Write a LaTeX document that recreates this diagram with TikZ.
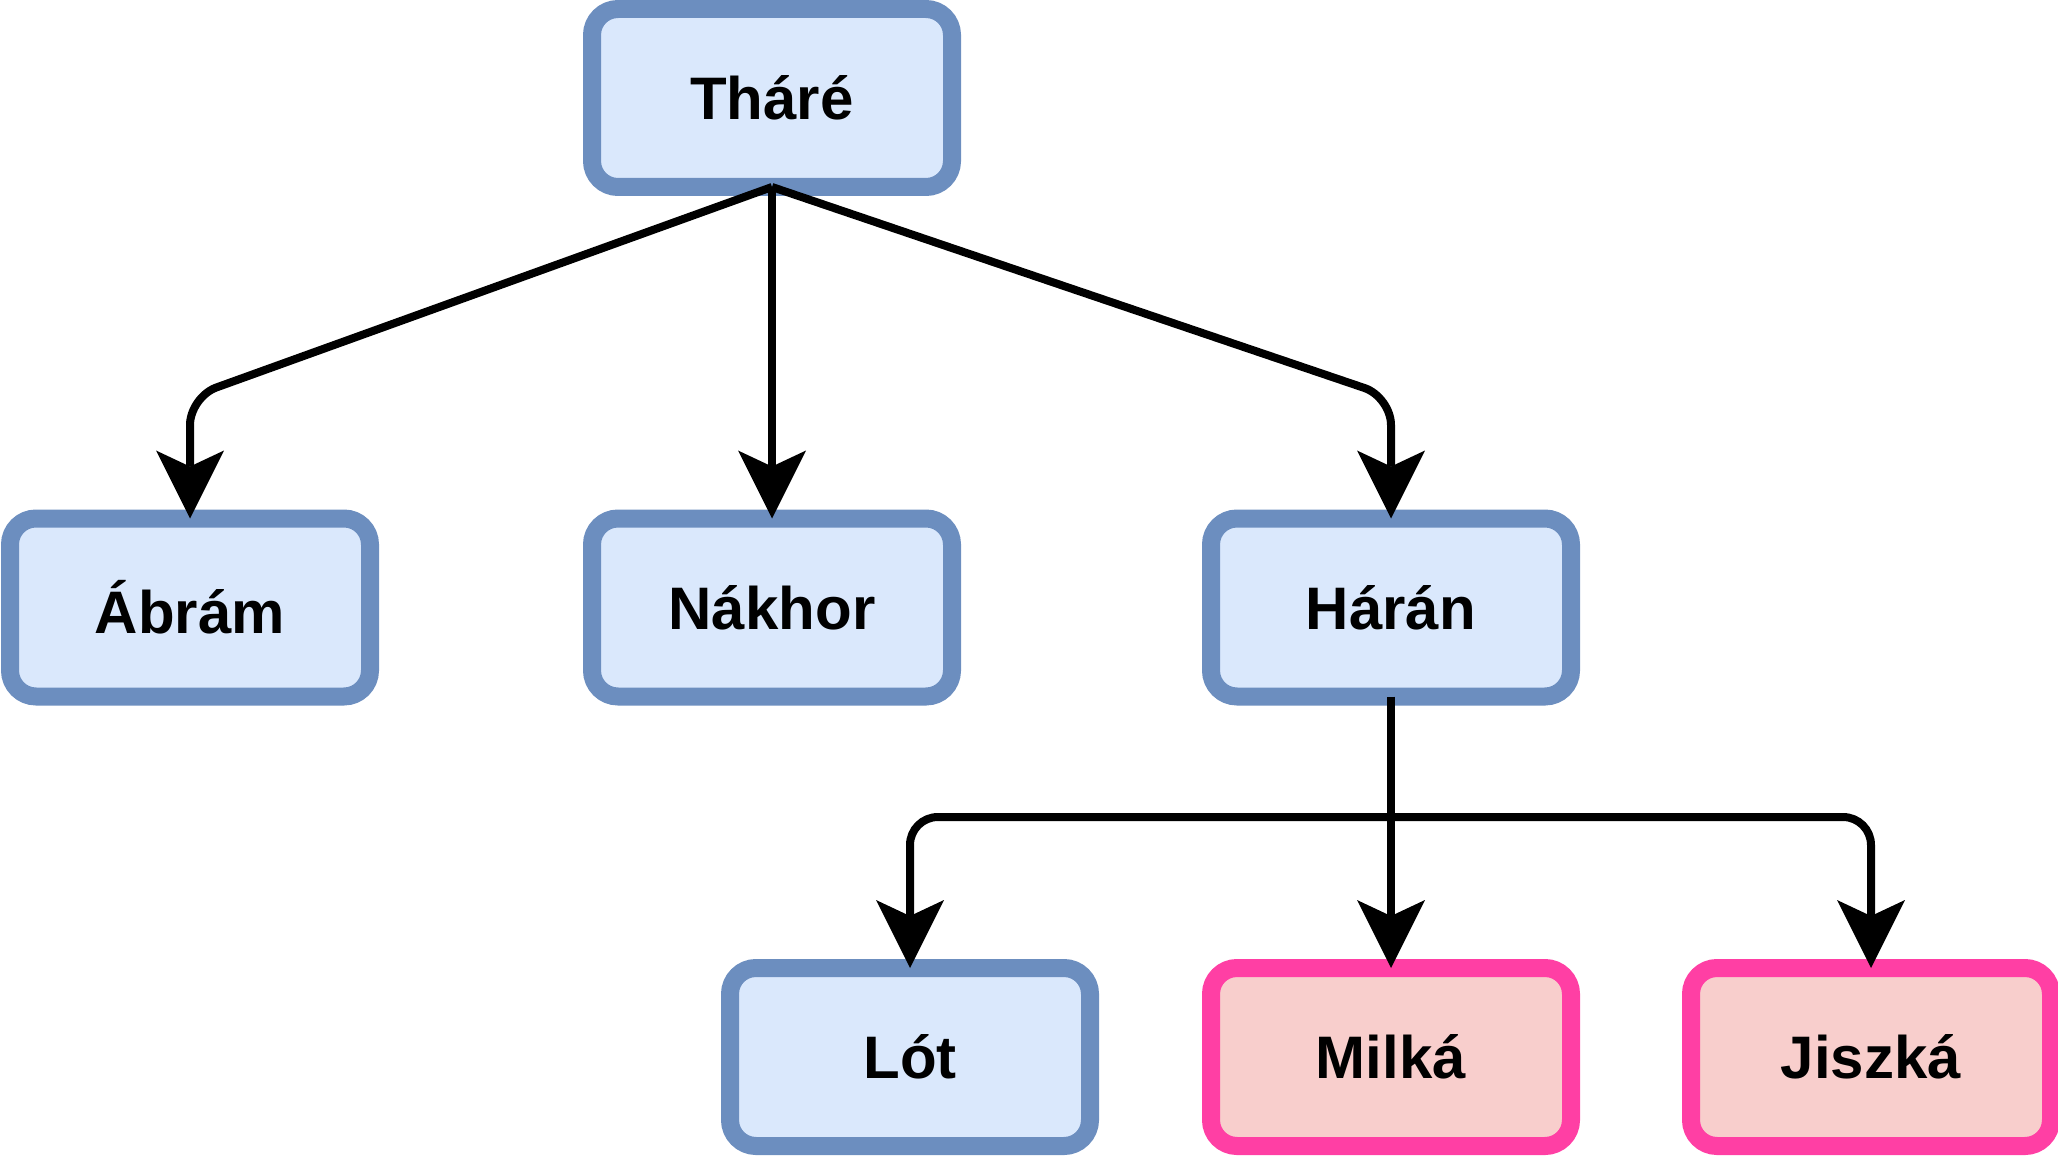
\documentclass[tikz,border=0pt]{standalone}
\usepackage{fontspec}
\setmainfont{Liberation Sans}
\usetikzlibrary{arrows.meta}
\definecolor{bluefill}{HTML}{DAE8FC}
\definecolor{bluedraw}{HTML}{6C8EBF}
\definecolor{pinkfill}{HTML}{F8CECC}
\definecolor{pinkdraw}{HTML}{FF3FA4}
\tikzset{
  person/.style={draw=bluedraw, fill=bluefill, line width=9pt, rounded corners=13pt,
    minimum width=180pt, minimum height=89pt, inner sep=0pt, outer sep=0pt,
    font=\fontsize{30}{36}\selectfont\bfseries},
  daughter/.style={person, draw=pinkdraw, fill=pinkfill},
  edge/.style={line width=4pt, draw=black,
    -{Stealth[length=34pt, width=34pt, inset=8pt, line width=0pt]}},
}
\begin{document}
\begin{tikzpicture}[x=0.5pt, y=-0.5pt]
\useasboundingbox (0,0) rectangle (2058,1161);
\node[person] (Thare) at (772,98) {Tháré};
\node[person] (Abram) at (190,607.5) {Ábrám};
\node[person] (Nakhor) at (772,607.5) {Nákhor};
\node[person] (Haran) at (1391,607.5) {Hárán};
\node[person] (Lot) at (910,1057) {Lót};
\node[daughter] (Milka) at (1391,1057) {Milká};
\node[daughter] (Jiszka) at (1871,1057) {Jiszká};
\coordinate (bus) at (1391,817);
\draw[edge, rounded corners=14pt] (Thare.south) -- (190,397) -- (Abram.north);
\draw[edge] (Thare.south) -- (Nakhor.north);
\draw[edge, rounded corners=14pt] (Thare.south) -- (1391,397) -- (Haran.north);
\draw[edge] (Haran.south) -- (Milka.north);
\draw[edge, rounded corners=14pt] (bus) -- (bus -| Lot.north) -- (Lot.north);
\draw[edge, rounded corners=14pt] (bus) -- (bus -| Jiszka.north) -- (Jiszka.north);
\end{tikzpicture}
\end{document}
